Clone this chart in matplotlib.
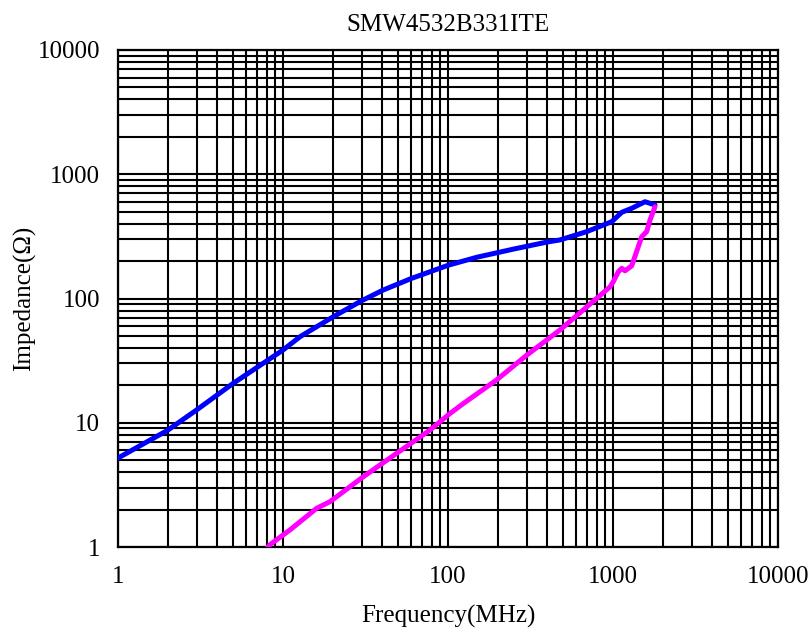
import matplotlib
matplotlib.use("Agg")
import matplotlib.pyplot as plt
from matplotlib.ticker import LogLocator, FixedLocator, NullFormatter

# impedance |Z|
z_freq = [1, 2.0, 3.0, 5.0, 10.0, 12.7, 20.2, 30, 40.5, 60, 100, 150, 250, 400,
          477, 692, 982, 1130, 1298, 1563, 1797]
z_vals = [5.2, 8.7, 12.7, 20.8, 38.5, 49.3, 71.4, 96, 117, 145, 185, 215, 250, 285,
          296, 345, 415, 494, 532, 601, 566]

# resistance R
r_freq = [8.1, 8.3, 11.0, 16.0, 19.3, 30.7, 48.9, 77.8, 103, 124, 197, 300,
          477, 959, 1005, 1077, 1130, 1182, 1298, 1492, 1563, 1600, 1676, 1797]
r_vals = [1.0, 1.04, 1.37, 2.05, 2.32, 3.68, 5.68, 8.74, 11.9, 14.3, 22.1, 35,
          55.8, 124, 137, 164, 175, 167, 183, 314, 335, 345, 428, 548]

x_ticks = [1, 10, 100, 1000, 10000]
x_labels = ["1", "10", "100", "1000", "10000"]
y_ticks = [1, 10, 100, 1000, 10000]
y_labels = ["1", "10", "100", "1000", "10000"]

plt.rcParams['font.family'] = ['Liberation Serif', 'DejaVu Serif']

fig = plt.figure(figsize=(8.11, 6.36), dpi=100)
ax = fig.add_axes([118 / 811, 1 - 547 / 636, 660 / 811, 497 / 636])

ax.plot(z_freq, z_vals, color='#0000ff', lw=3.6, solid_joinstyle='round',
        solid_capstyle='round', zorder=3)
ax.plot(r_freq, r_vals, color='#ff00ff', lw=3.6, solid_joinstyle='round',
        solid_capstyle='round', zorder=3)

ax.set_xscale('log')
ax.set_yscale('log')
ax.set_xlim(1, 10000)
ax.set_ylim(1, 10000)

ax.xaxis.set_major_locator(FixedLocator(x_ticks))
ax.yaxis.set_major_locator(FixedLocator(y_ticks))
ax.set_xticklabels(x_labels)
ax.set_yticklabels(y_labels)
ax.xaxis.set_minor_locator(LogLocator(base=10, subs=range(2, 10), numticks=20))
ax.yaxis.set_minor_locator(LogLocator(base=10, subs=range(2, 10), numticks=20))
ax.xaxis.set_minor_formatter(NullFormatter())
ax.yaxis.set_minor_formatter(NullFormatter())

ax.grid(True, which='both', color='black', lw=1.5)
ax.tick_params(which='both', length=0, labelsize=18)
ax.tick_params(axis='y', pad=13)
ax.tick_params(axis='x', pad=14)
for s in ax.spines.values():
    s.set_linewidth(1.6)

ax.set_title("SMW4532B331ITE", fontsize=18, pad=14)
ax.set_xlabel("Frequency(MHz)", fontsize=18, labelpad=12)
ax.set_ylabel("Impedance(Ω)", fontsize=18, labelpad=1)

fig.savefig("out.png", dpi=100)
